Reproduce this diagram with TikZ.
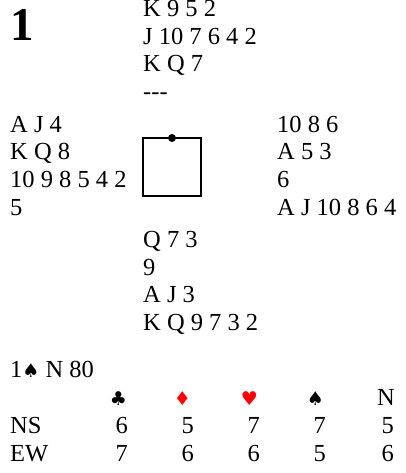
\documentclass[tikz,border=0pt]{standalone}
\usepackage{fontspec}
\setmainfont{Liberation Serif}
\newfontfamily\suitfont{DejaVu Sans}
\usepackage{tikz}
\definecolor{redsuit}{HTML}{FF0000}
\newcommand{\spd}{{\suitfont\fontsize{19}{19}\selectfont ♠}}
\newcommand{\clb}{{\suitfont\fontsize{19}{19}\selectfont ♣}}
\newcommand{\dmd}{{\suitfont\fontsize{19}{19}\selectfont\color{redsuit}♦}}
\newcommand{\hrt}{{\suitfont\fontsize{19}{19}\selectfont\color{redsuit}♥}}

\begin{document}
\begin{tikzpicture}[x=1pt,y=-1pt,
  hand/.style={anchor=base west, inner sep=0pt, font=\fontsize{24.5}{28}\selectfont},
  score/.style={anchor=base east, inner sep=0pt, font=\fontsize{24.5}{28}\selectfont}]
\useasboundingbox (0,0) rectangle (405,473);
\node[anchor=base west, inner sep=0pt, font=\bfseries\fontsize{47}{47}\selectfont] (board) at (10,41) {1};
% north
\node[hand] (n1) at (143,16.5) {K 9 5 2};
\node[hand] (n2) at (143,44.3) {J 10 7 6 4 2};
\node[hand] (n3) at (143,72) {K Q 7};
\node[hand] (n4) at (143,99.7) {{-}{-}{-}};
% west
\node[hand] (w1) at (10,132.3) {A J 4};
\node[hand] (w2) at (10,160) {K Q 8};
\node[hand] (w3) at (10,187.7) {10 9 8 5 4 2};
\node[hand] (w4) at (10,215.4) {5};
% east
\node[hand] (e1) at (277,132.3) {10 8 6};
\node[hand] (e2) at (277,160) {A 5 3};
\node[hand] (e3) at (277,187.7) {6};
\node[hand] (e4) at (277,215.4) {A J 10 8 6 4};
% south
\node[hand] (s1) at (143,247.3) {Q 7 3};
\node[hand] (s2) at (143,275) {9};
\node[hand] (s3) at (143,302.7) {A J 3};
\node[hand] (s4) at (143,330.4) {K Q 9 7 3 2};
% table
\draw[line width=1.3pt] (143,138) rectangle (201,196);
\fill (172,138) circle (4);
% contract and tricks
\node[hand] (contract) at (10,377) {1\spd{} N 80};
\node[score] (hc) at (127,405) {\clb};
\node[score] (hd) at (191,405) {\dmd};
\node[score] (hh) at (258,405) {\hrt};
\node[score] (hs) at (324,405) {\spd};
\node[score] (hn) at (395,405) {N};
\node[hand] (ns) at (10,433) {NS};
\node[score] (ns1) at (128,433) {6};
\node[score] (ns2) at (194,433) {5};
\node[score] (ns3) at (260,433) {7};
\node[score] (ns4) at (326,433) {7};
\node[score] (ns5) at (394,433) {5};
\node[hand] (ew) at (10,461) {EW};
\node[score] (ew1) at (128,461) {7};
\node[score] (ew2) at (194,461) {6};
\node[score] (ew3) at (260,461) {6};
\node[score] (ew4) at (326,461) {5};
\node[score] (ew5) at (394,461) {6};
\end{tikzpicture}
\end{document}
